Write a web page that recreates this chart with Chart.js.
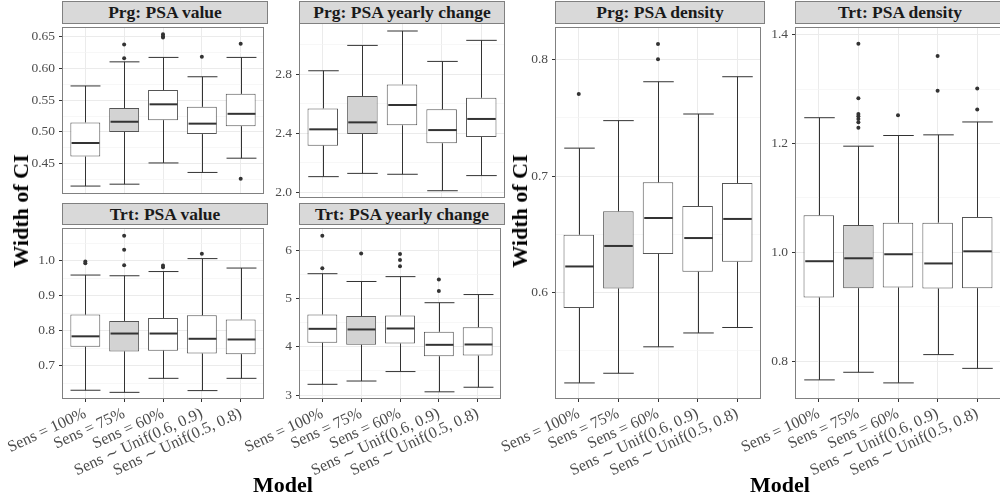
<!DOCTYPE html>
<html>
<head>
<meta charset="utf-8">
<script src="https://cdn.jsdelivr.net/npm/chart.js@4.4.0/dist/chart.umd.min.js"></script>
<style>
  body { margin: 0; width: 1000px; height: 501px; overflow: hidden; position: relative; background: #fff;
         font-family: "Liberation Serif", "DejaVu Serif", serif; }
  canvas { position: absolute; }
  .strip { position: absolute; box-sizing: border-box; background: #d9d9d9; border: 1px solid #808080;
           text-align: center; font-weight: bold; font-size: 17.5px; color: #1a1a1a; white-space: nowrap; }
  .title { position: absolute; font-weight: bold; font-size: 22px; color: #000; white-space: nowrap;
           transform: translate(-50%, -50%); }
  .ytitle { transform: translate(-50%, -50%) rotate(-90deg); }
</style>
</head>
<body>
<script>
const models = ["Sens = 100%", "Sens = 75%", "Sens = 60%", "Sens \u223C Unif(0.6, 0.9)", "Sens \u223C Unif(0.5, 0.8)"];

// each row: [lower whisker, Q1, median, Q3, upper whisker]
const prgValueStats = [
  [0.4145, 0.461, 0.4825, 0.515, 0.5725],
  [0.4175, 0.500, 0.516, 0.5375, 0.6105],
  [0.451, 0.5185, 0.5435, 0.566, 0.6175],
  [0.436, 0.4965, 0.513, 0.5395, 0.587],
  [0.4585, 0.509, 0.5285, 0.560, 0.6175]
];
const prgValueOut = [[], [0.616, 0.638], [0.649, 0.651, 0.654], [0.6185], [0.639, 0.426]];
const prgValueTicks = ["0.45", "0.50", "0.55", "0.60", "0.65"];

const prgYearlyStats = [
  [2.108, 2.317, 2.427, 2.568, 2.822],
  [2.130, 2.396, 2.474, 2.652, 2.993],
  [2.124, 2.454, 2.591, 2.730, 3.090],
  [2.013, 2.333, 2.422, 2.562, 2.885],
  [2.115, 2.375, 2.497, 2.640, 3.027]
];
const prgYearlyOut = [[], [], [], [], []];
const prgYearlyTicks = ["2.0", "2.4", "2.8"];

const trtValueStats = [
  [0.630, 0.754, 0.784, 0.846, 0.959],
  [0.624, 0.741, 0.792, 0.828, 0.957],
  [0.664, 0.743, 0.792, 0.836, 0.969],
  [0.629, 0.735, 0.777, 0.844, 1.006],
  [0.664, 0.733, 0.775, 0.832, 0.979]
];
const trtValueOut = [[0.993, 0.998], [0.987, 1.031, 1.071], [0.981, 0.986], [1.020], []];
const trtValueTicks = ["0.7", "0.8", "0.9", "1.0"];

const trtYearlyStats = [
  [3.224, 4.084, 4.375, 4.673, 5.519],
  [3.292, 4.043, 4.362, 4.639, 5.357],
  [3.488, 4.070, 4.382, 4.653, 5.458],
  [3.068, 3.806, 4.043, 4.314, 4.917],
  [3.163, 3.820, 4.050, 4.409, 5.086]
];
const trtYearlyOut = [[5.634, 6.305], [5.939], [5.675, 5.804, 5.926], [5.160, 5.397], []];
const trtYearlyTicks = ["3", "4", "5", "6"];

const prgDensityStats = [
  [0.5224, 0.5867, 0.6224, 0.6496, 0.724],
  [0.5307, 0.6035, 0.640, 0.6698, 0.7476],
  [0.5534, 0.6332, 0.664, 0.6946, 0.781],
  [0.5653, 0.6179, 0.6468, 0.6743, 0.7533],
  [0.570, 0.6264, 0.6632, 0.694, 0.7853]
];
const prgDensityOut = [[0.7705], [], [0.8003, 0.8133], [], []];
const prgDensityTicks = ["0.6", "0.7", "0.8"];

const trtDensityStats = [
  [0.7655, 0.917, 0.9836, 1.068, 1.2473],
  [0.7795, 0.934, 0.989, 1.050, 1.195],
  [0.760, 0.9353, 0.9964, 1.0545, 1.2146],
  [0.812, 0.9335, 0.9795, 1.0545, 1.2158],
  [0.7867, 0.934, 1.0018, 1.0649, 1.2395]
];
const trtDensityOut = [[], [1.229, 1.239, 1.245, 1.250, 1.254, 1.283, 1.383], [1.252], [1.297, 1.3607], [1.2625, 1.301]];
const trtDensityTicks = ["0.8", "1.0", "1.2", "1.4"];

const FONT = '"Liberation Serif", "DejaVu Serif", serif';

// panel layout: plot rect [left, top, right, bottom] in page px, y range, width reserved for y axis
const panels = [
  { title: "Prg: PSA value", stats: prgValueStats, out: prgValueOut, ticks: prgValueTicks,
    range: [0.402, 0.6655], rect: [62, 23, 268, 198], axisW: 62, showX: false },
  { title: "Prg: PSA yearly change", stats: prgYearlyStats, out: prgYearlyOut, ticks: prgYearlyTicks,
    range: [1.964, 3.144], rect: [299, 23, 505, 198], axisW: 50, showX: false },
  { title: "Trt: PSA value", stats: trtValueStats, out: trtValueOut, ticks: trtValueTicks,
    range: [0.605, 1.0934], rect: [62, 224, 268, 399], axisW: 62, showX: true },
  { title: "Trt: PSA yearly change", stats: trtYearlyStats, out: trtYearlyOut, ticks: trtYearlyTicks,
    range: [2.919, 6.467], rect: [299, 224, 505, 399], axisW: 110, showX: true },
  { title: "Prg: PSA density", stats: prgDensityStats, out: prgDensityOut, ticks: prgDensityTicks,
    range: [0.5086, 0.828], rect: [555, 23, 765, 399], axisW: 60, showX: true },
  { title: "Trt: PSA density", stats: trtDensityStats, out: trtDensityOut, ticks: trtDensityTicks,
    range: [0.7304, 1.414], rect: [795, 23, 1005, 399], axisW: 90, showX: true }
];

// whiskers, caps, medians and the panel frame
const boxPlugin = {
  id: 'boxParts',
  afterDatasetsDraw(chart, args, opts) {
    const { ctx, scales: { x, y } } = chart;
    const bar = chart.getDatasetMeta(0).data[0];
    const half = bar.width / 2;
    ctx.save();
    opts.stats.forEach((s, i) => {
      const cx = Math.round(x.getPixelForValue(i)) + 0.5;
      const [lo, q1, med, q3, hi] = s.map(v => y.getPixelForValue(v));
      ctx.strokeStyle = '#333';
      ctx.lineWidth = 1;
      ctx.beginPath();
      ctx.moveTo(cx, lo); ctx.lineTo(cx, q1);
      ctx.moveTo(cx, q3); ctx.lineTo(cx, hi);
      ctx.moveTo(cx - half, lo); ctx.lineTo(cx + half, lo);
      ctx.moveTo(cx - half, hi); ctx.lineTo(cx + half, hi);
      ctx.stroke();
      ctx.lineWidth = 2;
      ctx.beginPath();
      ctx.moveTo(cx - half + 1, med); ctx.lineTo(cx + half - 1, med);
      ctx.stroke();
    });
    ctx.restore();
  },
  afterDraw(chart) {
    const { ctx, chartArea: a } = chart;
    ctx.save();
    ctx.strokeStyle = '#808080';
    ctx.lineWidth = 1;
    ctx.strokeRect(a.left + 0.5, a.top + 0.5, a.right - a.left - 1, a.bottom - a.top - 1);
    ctx.restore();
  }
};

function boxChart(p) {
  const [L, T, R, B] = p.rect;
  const xh = p.showX ? 100 : 0;
  const cv = document.createElement('canvas');
  cv.width = R - L + p.axisW;
  cv.height = B - T + xh;
  cv.style.left = (L - p.axisW) + 'px';
  cv.style.top = T + 'px';
  document.body.appendChild(cv);

  const strip = document.createElement('div');
  strip.className = 'strip';
  strip.textContent = p.title;
  const top = T < 100 ? 1 : 203;
  strip.style.left = L + 'px';
  strip.style.top = top + 'px';
  strip.style.width = (R - L) + 'px';
  strip.style.height = (T - top + 1) + 'px';
  strip.style.lineHeight = (T - top - 1) + 'px';
  document.body.appendChild(strip);

  const major = p.ticks.map(Number);
  const step = major[1] - major[0];
  const gridVals = [];
  for (let k = -1; ; k++) {
    const v = +(major[0] + k * step / 2).toFixed(6);
    if (v > p.range[1]) break;
    if (v >= p.range[0]) gridVals.push(v);
  }
  const labelFor = v => {
    const i = major.findIndex(m => Math.abs(m - v) < 1e-6);
    return i < 0 ? '' : p.ticks[i];
  };
  const isMajor = c => c.tick && labelFor(c.tick.value) !== '';

  const boxes = p.stats.map((s, i) => ({ x: i, y: [s[1], s[3]] }));
  const points = [];
  p.out.forEach((list, i) => list.forEach(v => points.push({ x: i, y: v })));

  new Chart(cv, {
    type: 'bar',
    data: {
      datasets: [
        {
          type: 'bar',
          data: boxes,
          backgroundColor: models.map((m, i) => i === 1 ? '#d3d3d3' : '#ffffff'),
          borderColor: '#555',
          borderWidth: 1,
          borderSkipped: false,
          barPercentage: 0.77,
          categoryPercentage: 1
        },
        {
          type: 'scatter',
          data: points,
          pointRadius: 2,
          pointBackgroundColor: '#333',
          pointBorderWidth: 0
        }
      ]
    },
    options: {
      responsive: false,
      animation: false,
      devicePixelRatio: 1,
      events: [],
      layout: { padding: 0 },
      plugins: {
        legend: { display: false },
        tooltip: { enabled: false },
        boxParts: { stats: p.stats }
      },
      scales: {
        x: {
          type: 'linear',
          min: -0.6,
          max: 4.6,
          offset: false,
          afterBuildTicks: s => { s.ticks = models.map((m, i) => ({ value: i })); },
          afterFit: s => { s.height = xh; s.paddingLeft = 0; s.paddingRight = 0; },
          grid: { color: '#ebebeb', lineWidth: 1, offset: false, drawTicks: p.showX, tickLength: 3, tickColor: '#333' },
          border: { display: false },
          ticks: {
            display: p.showX, autoSkip: false, minRotation: 25, maxRotation: 25, padding: 2,
            color: '#4d4d4d', font: { family: FONT, size: 16 },
            callback: v => models[v]
          }
        },
        y: {
          min: p.range[0],
          max: p.range[1],
          beginAtZero: false,
          afterBuildTicks: s => { s.ticks = gridVals.map(v => ({ value: v })); },
          afterFit: s => { s.width = p.axisW; s.paddingTop = 0; s.paddingBottom = 0; },
          grid: {
            color: c => isMajor(c) ? '#ebebeb' : '#f3f3f3',
            lineWidth: c => isMajor(c) ? 1 : 0.7,
            tickColor: c => isMajor(c) ? '#333' : 'rgba(0,0,0,0)',
            tickLength: 3
          },
          border: { display: false },
          ticks: {
            autoSkip: false, padding: 4, color: '#4d4d4d',
            font: { family: FONT, size: 13.5 },
            callback: v => labelFor(v)
          }
        }
      }
    },
    plugins: [boxPlugin]
  });
}

panels.forEach(boxChart);

const titles = [
  { text: "Width of CI", x: 20.5, y: 211, cls: 'title ytitle' },
  { text: "Width of CI", x: 520, y: 211, cls: 'title ytitle' },
  { text: "Model", x: 283, y: 485, cls: 'title' },
  { text: "Model", x: 780, y: 485, cls: 'title' }
];
titles.forEach(t => {
  const d = document.createElement('div');
  d.className = t.cls;
  d.textContent = t.text;
  d.style.left = t.x + 'px';
  d.style.top = t.y + 'px';
  document.body.appendChild(d);
});
</script>
</body>
</html>
